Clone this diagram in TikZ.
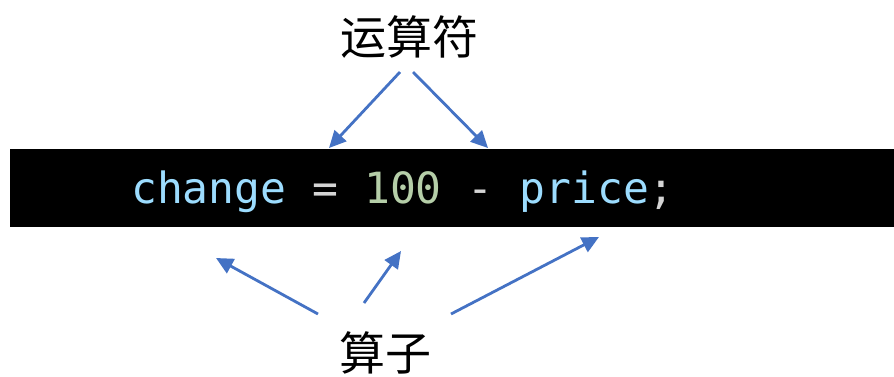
\documentclass[tikz,border=0pt]{standalone}
\usepackage{fontspec}
\newfontfamily\cjk{Noto Sans CJK SC}
\newfontfamily\codefont{DejaVu Sans Mono}
\usetikzlibrary{arrows.meta}
\definecolor{arrowblue}{HTML}{4472C4}
\definecolor{codeblue}{HTML}{9CDCFE}
\definecolor{codegreen}{HTML}{B5CEA8}
\definecolor{codegray}{HTML}{D4D4D4}
\tikzset{
  conn/.style={draw=arrowblue, line width=2.8pt, -{Triangle[length=17pt,width=16pt]}},
  label/.style={font=\cjk\fontsize{46}{52}\selectfont, inner sep=0pt, anchor=base},
  code/.style={font=\codefont\fontsize{43}{50}\selectfont, inner sep=0pt, anchor=base west}
}
\begin{document}
\begin{tikzpicture}[x=1pt, y=-1pt]
\useasboundingbox (0,0) rectangle (894,376);
\fill[black] (10,149) rectangle (894,227);
\node[code] (codeline) at (131,203) {\textcolor{codeblue}{change} \textcolor{codegray}{=} \textcolor{codegreen}{100} \textcolor{codegray}{-} \textcolor{codeblue}{price}\textcolor{codegray}{;}};
\node[label] (op) at (409,54) {运算符};
\node[label] (arg) at (385,370) {算子};
\coordinate (opA) at (400,72);
\coordinate (opB) at (413,72);
\coordinate (opAend) at (329,148);
\coordinate (opBend) at (488,148);
\coordinate (argA) at (318,314);
\coordinate (argB) at (364,303);
\coordinate (argC) at (451,314);
\coordinate (argAend) at (216,258);
\coordinate (argBend) at (401,251);
\coordinate (argCend) at (599,237);
\draw[conn] (opA) -- (opAend);
\draw[conn] (opB) -- (opBend);
\draw[conn] (argA) -- (argAend);
\draw[conn] (argB) -- (argBend);
\draw[conn] (argC) -- (argCend);
\end{tikzpicture}
\end{document}
